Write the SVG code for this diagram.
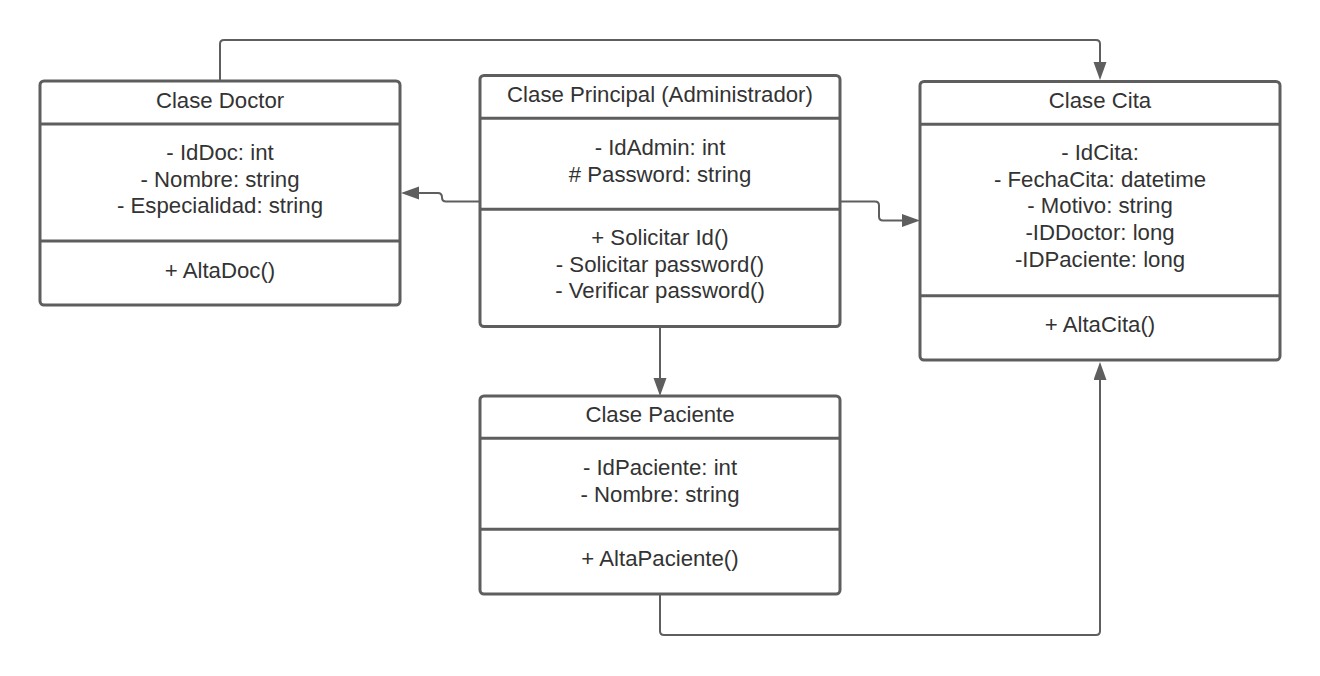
<svg xmlns="http://www.w3.org/2000/svg" width="1320" height="676" viewBox="0 0 1320 676">
<defs>
<marker id="arr" markerUnits="userSpaceOnUse" markerWidth="20" markerHeight="14" refX="14" refY="6.5" orient="auto">
<path d="M0,0 L18,6.5 L0,13 Z" fill="#5e5e5e"/>
</marker>
<style>
.box{fill:#ffffff;stroke:#5e5e5e;stroke-width:3}
.div{stroke:#5e5e5e;stroke-width:3}
.t{font-family:"Liberation Sans",Arial,sans-serif;font-size:22.2px;fill:#333333;text-anchor:middle}
.c{fill:none;stroke:#5e5e5e;stroke-width:2;marker-end:url(#arr)}
</style>
</defs>
<rect width="1320" height="676" fill="#ffffff"/>
<g id="connectors">
<path class="c" d="M220,81 V44 Q220,40 224,40 H1096 Q1100,40 1100,44 V76"/>
<path class="c" d="M480,201.5 H446 Q442,201.5 442,197.5 Q442,193 438,193 H405"/>
<path class="c" d="M840,201.5 H875 Q879,201.5 879,205.5 V216.5 Q879,220.5 883,220.5 H916"/>
<path class="c" d="M660,327 V392"/>
<path class="c" d="M660,594 V631 Q660,635 664,635 H1096 Q1100,635 1100,631 V366"/>
</g>
<g id="doctor">
<rect class="box" x="40" y="81" width="360" height="224" rx="4"/>
<line class="div" x1="40" y1="124" x2="400" y2="124"/>
<line class="div" x1="40" y1="241" x2="400" y2="241"/>
<text class="t" x="220" y="108">Clase Doctor</text>
<text class="t" x="220" y="160">- IdDoc: int</text>
<text class="t" x="220" y="186.7">- Nombre: string</text>
<text class="t" x="220" y="213.3">- Especialidad: string</text>
<text class="t" x="220" y="278">+ AltaDoc()</text>
</g>
<g id="principal">
<rect class="box" x="480" y="75.5" width="360" height="251" rx="4"/>
<line class="div" x1="480" y1="118.3" x2="840" y2="118.3"/>
<line class="div" x1="480" y1="209.3" x2="840" y2="209.3"/>
<text class="t" x="660" y="101.7">Clase Principal (Administrador)</text>
<text class="t" x="660" y="155">- IdAdmin: int</text>
<text class="t" x="660" y="181.7"># Password: string</text>
<text class="t" x="660" y="245">+ Solicitar Id()</text>
<text class="t" x="660" y="271.7">- Solicitar password()</text>
<text class="t" x="660" y="298.3">- Verificar password()</text>
</g>
<g id="cita">
<rect class="box" x="920" y="81.5" width="360" height="278.5" rx="4"/>
<line class="div" x1="920" y1="124.3" x2="1280" y2="124.3"/>
<line class="div" x1="920" y1="295.7" x2="1280" y2="295.7"/>
<text class="t" x="1100" y="107.7">Clase Cita</text>
<text class="t" x="1100" y="160">- IdCita:</text>
<text class="t" x="1100" y="186.7">- FechaCita: datetime</text>
<text class="t" x="1100" y="213.3">- Motivo: string</text>
<text class="t" x="1100" y="240">-IDDoctor: long</text>
<text class="t" x="1100" y="266.7">-IDPaciente: long</text>
<text class="t" x="1100" y="331.7">+ AltaCita()</text>
</g>
<g id="paciente">
<rect class="box" x="480" y="396" width="360" height="198" rx="4"/>
<line class="div" x1="480" y1="438.3" x2="840" y2="438.3"/>
<line class="div" x1="480" y1="529.3" x2="840" y2="529.3"/>
<text class="t" x="660" y="421.7">Clase Paciente</text>
<text class="t" x="660" y="475">- IdPaciente: int</text>
<text class="t" x="660" y="501.7">- Nombre: string</text>
<text class="t" x="660" y="566">+ AltaPaciente()</text>
</g>
</svg>
